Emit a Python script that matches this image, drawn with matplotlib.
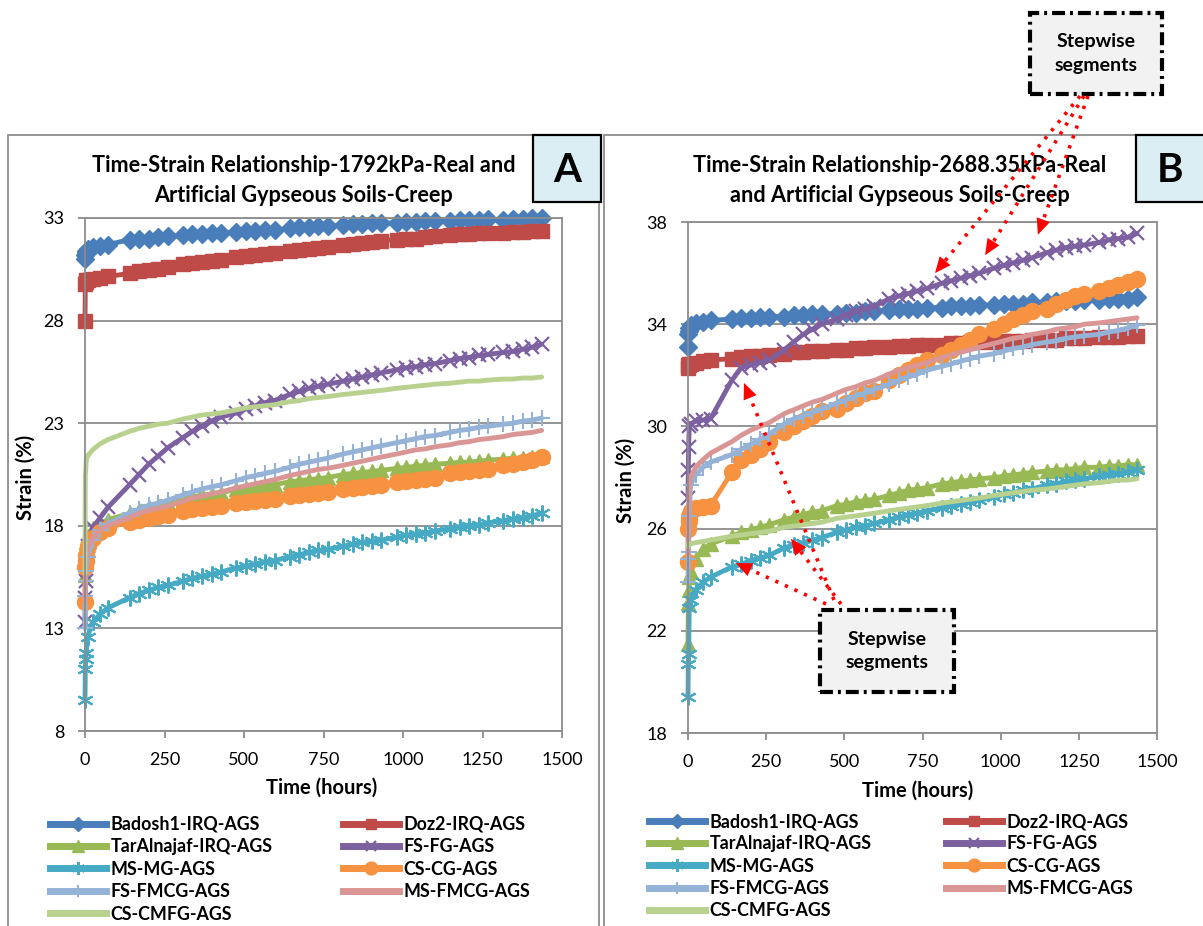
import numpy as np
import matplotlib
matplotlib.use("Agg")
import matplotlib.pyplot as plt
from matplotlib.patches import Rectangle, Polygon
from matplotlib.lines import Line2D

plt.rcParams['font.family'] = ['Lato', 'DejaVu Sans']

# ---------------------------------------------------------------- data
# reading times (hours): dense start, then weekday readings each week
hours = [0, 1, 2, 4, 8, 24, 48, 72,
         140, 170, 200, 230, 260,
         308, 338, 368, 398, 428,
         476, 506, 536, 566, 596,
         644, 674, 704, 734, 764,
         812, 842, 872, 902, 932,
         980, 1010, 1040, 1070, 1100,
         1148, 1178, 1208, 1238, 1268,
         1316, 1346, 1376, 1406, 1436]

series_names = ['Badosh1-IRQ-AGS', 'Doz2-IRQ-AGS', 'TarAlnajaf-IRQ-AGS',
                'FS-FG-AGS', 'MS-MG-AGS', 'CS-CG-AGS',
                'FS-FMCG-AGS', 'MS-FMCG-AGS', 'CS-CMFG-AGS']

# Strain (%) under 1792 kPa
strain_A = {
    'Badosh1-IRQ-AGS': [31.0, 31.2, 31.3, 31.4, 31.5, 31.6, 31.65, 31.7,
                        31.95, 32.0, 32.0, 32.05, 32.1,
                        32.15, 32.2, 32.2, 32.25, 32.25,
                        32.3, 32.35, 32.35, 32.4, 32.4,
                        32.5, 32.55, 32.55, 32.6, 32.6,
                        32.65, 32.7, 32.7, 32.75, 32.75,
                        32.75, 32.8, 32.8, 32.85, 32.85,
                        32.85, 32.9, 32.9, 32.9, 32.95,
                        32.9, 32.95, 32.95, 33.0, 33.0],
    'Doz2-IRQ-AGS': [28.0, 29.8, 29.9, 30.0, 30.0, 30.05, 30.1, 30.15,
                     30.3, 30.4, 30.45, 30.5, 30.6,
                     30.75, 30.8, 30.85, 30.9, 30.95,
                     31.1, 31.15, 31.2, 31.25, 31.3,
                     31.4, 31.45, 31.5, 31.55, 31.6,
                     31.7, 31.75, 31.8, 31.85, 31.9,
                     31.95, 32.0, 32.0, 32.05, 32.1,
                     32.15, 32.2, 32.2, 32.25, 32.25,
                     32.25, 32.3, 32.3, 32.35, 32.35],
    'TarAlnajaf-IRQ-AGS': [15.6, 16.5, 16.9, 17.2, 17.5, 17.9, 18.1, 18.3,
                           18.6, 18.75, 18.9, 19.0, 19.1,
                           19.3, 19.4, 19.5, 19.55, 19.6,
                           19.8, 19.85, 19.9, 19.95, 20.0,
                           20.15, 20.2, 20.25, 20.3, 20.35,
                           20.5, 20.55, 20.6, 20.65, 20.7,
                           20.8, 20.85, 20.9, 20.95, 21.0,
                           21.05, 21.1, 21.1, 21.15, 21.2,
                           21.25, 21.3, 21.3, 21.35, 21.4],
    'FS-FG-AGS': [13.3, 14.5, 15.3, 16.2, 17.0, 17.9, 18.4, 18.9,
                  20.0, 20.5, 21.0, 21.4, 21.8,
                  22.3, 22.6, 22.85, 23.1, 23.3,
                  23.5, 23.7, 23.85, 24.0, 24.1,
                  24.4, 24.55, 24.7, 24.8, 24.9,
                  25.05, 25.15, 25.25, 25.35, 25.45,
                  25.6, 25.7, 25.75, 25.85, 25.9,
                  26.05, 26.15, 26.2, 26.3, 26.35,
                  26.45, 26.5, 26.6, 26.7, 26.85],
    'MS-MG-AGS': [9.5, 11.0, 11.5, 11.8, 12.6, 13.3, 13.7, 14.0,
                  14.5, 14.7, 14.85, 15.0, 15.1,
                  15.3, 15.45, 15.55, 15.65, 15.75,
                  15.95, 16.05, 16.15, 16.25, 16.3,
                  16.5, 16.6, 16.7, 16.8, 16.85,
                  17.0, 17.1, 17.2, 17.25, 17.3,
                  17.45, 17.55, 17.6, 17.65, 17.75,
                  17.85, 17.95, 18.0, 18.05, 18.15,
                  18.25, 18.35, 18.4, 18.5, 18.6],
    'CS-CG-AGS': [14.3, 16.0, 16.3, 16.6, 17.0, 17.4, 17.7, 17.9,
                  18.2, 18.3, 18.4, 18.5, 18.55,
                  18.7, 18.8, 18.85, 18.9, 18.95,
                  19.1, 19.15, 19.2, 19.25, 19.3,
                  19.45, 19.5, 19.55, 19.6, 19.65,
                  19.8, 19.85, 19.9, 19.95, 20.0,
                  20.15, 20.2, 20.25, 20.3, 20.35,
                  20.55, 20.6, 20.65, 20.7, 20.75,
                  20.95, 21.0, 21.1, 21.2, 21.35],
    'FS-FMCG-AGS': [13.0, 14.6, 15.3, 15.8, 16.5, 17.3, 17.8, 18.1,
                    18.6, 18.8, 19.0, 19.1, 19.25,
                    19.5, 19.65, 19.8, 19.9, 20.0,
                    20.2, 20.35, 20.45, 20.55, 20.65,
                    20.85, 21.0, 21.1, 21.2, 21.3,
                    21.5, 21.6, 21.7, 21.8, 21.9,
                    22.05, 22.15, 22.25, 22.35, 22.4,
                    22.55, 22.65, 22.7, 22.8, 22.85,
                    22.95, 23.0, 23.1, 23.15, 23.25],
    'MS-FMCG-AGS': [14.3, 15.5, 16.0, 16.4, 16.9, 17.4, 17.8, 18.0,
                    18.4, 18.6, 18.75, 18.85, 18.95,
                    19.2, 19.35, 19.45, 19.55, 19.65,
                    19.85, 19.95, 20.05, 20.15, 20.25,
                    20.45, 20.55, 20.65, 20.75, 20.8,
                    20.95, 21.05, 21.15, 21.25, 21.35,
                    21.5, 21.6, 21.7, 21.75, 21.85,
                    21.95, 22.05, 22.1, 22.2, 22.25,
                    22.35, 22.45, 22.5, 22.55, 22.65],
    'CS-CMFG-AGS': [15.7, 20.5, 20.6, 21.2, 21.4, 21.7, 22.0, 22.2,
                    22.6, 22.75, 22.85, 22.95, 23.0,
                    23.2, 23.3, 23.4, 23.45, 23.5,
                    23.65, 23.75, 23.8, 23.85, 23.9,
                    24.05, 24.1, 24.2, 24.25, 24.3,
                    24.4, 24.45, 24.5, 24.55, 24.6,
                    24.7, 24.75, 24.8, 24.85, 24.9,
                    24.95, 25.0, 25.05, 25.05, 25.1,
                    25.15, 25.15, 25.2, 25.2, 25.25],
}

# Strain (%) under 2688.35 kPa
strain_B = {
    'Badosh1-IRQ-AGS': [33.1, 33.6, 33.75, 33.85, 33.95, 34.05, 34.1, 34.15,
                        34.2, 34.25, 34.25, 34.3, 34.3,
                        34.3, 34.35, 34.35, 34.4, 34.4,
                        34.4, 34.45, 34.45, 34.5, 34.5,
                        34.55, 34.6, 34.6, 34.6, 34.65,
                        34.65, 34.7, 34.7, 34.7, 34.75,
                        34.75, 34.8, 34.8, 34.8, 34.85,
                        34.85, 34.9, 34.9, 34.9, 34.95,
                        34.95, 35.0, 35.0, 35.0, 35.05],
    'Doz2-IRQ-AGS': [32.3, 32.4, 32.4, 32.45, 32.45, 32.5, 32.55, 32.6,
                     32.65, 32.7, 32.75, 32.75, 32.8,
                     32.85, 32.9, 32.9, 32.95, 32.95,
                     33.0, 33.0, 33.05, 33.05, 33.1,
                     33.1, 33.15, 33.15, 33.2, 33.2,
                     33.2, 33.25, 33.25, 33.3, 33.3,
                     33.3, 33.35, 33.35, 33.35, 33.4,
                     33.4, 33.4, 33.45, 33.45, 33.45,
                     33.5, 33.5, 33.5, 33.55, 33.55],
    'TarAlnajaf-IRQ-AGS': [21.5, 23.1, 23.6, 24.1, 24.3, 24.8, 25.2, 25.4,
                           25.7, 25.85, 25.95, 26.05, 26.15,
                           26.35, 26.45, 26.55, 26.65, 26.7,
                           26.9, 26.95, 27.05, 27.1, 27.15,
                           27.3, 27.4, 27.5, 27.55, 27.6,
                           27.75, 27.8, 27.85, 27.9, 27.95,
                           28.0, 28.05, 28.1, 28.15, 28.2,
                           28.25, 28.3, 28.3, 28.35, 28.4,
                           28.4, 28.45, 28.45, 28.5, 28.5],
    'FS-FG-AGS': [27.2, 28.3, 29.2, 30.0, 30.1, 30.2, 30.25, 30.3,
                  31.8, 32.3, 32.4, 32.5, 32.6,
                  33.0, 33.3, 33.6, 33.8, 34.0,
                  34.2, 34.35, 34.5, 34.6, 34.7,
                  35.0, 35.1, 35.2, 35.3, 35.4,
                  35.6, 35.7, 35.8, 35.9, 36.0,
                  36.2, 36.3, 36.4, 36.5, 36.6,
                  36.8, 36.9, 37.0, 37.05, 37.1,
                  37.2, 37.3, 37.35, 37.4, 37.55],
    'MS-MG-AGS': [19.4, 20.7, 21.1, 22.9, 23.2, 23.6, 23.9, 24.1,
                  24.5, 24.6, 24.75, 24.85, 24.95,
                  25.25, 25.35, 25.45, 25.55, 25.65,
                  25.85, 25.95, 26.05, 26.1, 26.2,
                  26.35, 26.45, 26.55, 26.6, 26.7,
                  26.8, 26.9, 26.95, 27.05, 27.1,
                  27.25, 27.35, 27.4, 27.5, 27.55,
                  27.7, 27.75, 27.85, 27.9, 27.95,
                  28.05, 28.1, 28.15, 28.2, 28.3],
    'CS-CG-AGS': [24.7, 26.0, 26.3, 26.5, 26.7, 26.8, 26.85, 26.9,
                  28.2, 28.7, 28.9, 29.1, 29.4,
                  29.8, 30.0, 30.2, 30.4, 30.6,
                  30.7, 30.9, 31.1, 31.3, 31.4,
                  31.8, 32.0, 32.2, 32.4, 32.6,
                  32.8, 33.0, 33.2, 33.4, 33.6,
                  33.8, 34.0, 34.2, 34.35, 34.5,
                  34.6, 34.8, 34.95, 35.1, 35.2,
                  35.3, 35.4, 35.55, 35.65, 35.75],
    'FS-FMCG-AGS': [23.9, 24.8, 25.1, 26.5, 27.7, 28.1, 28.4, 28.6,
                    28.9, 29.1, 29.3, 29.5, 29.7,
                    30.1, 30.3, 30.4, 30.55, 30.7,
                    30.9, 31.05, 31.2, 31.3, 31.45,
                    31.65, 31.8, 31.95, 32.05, 32.2,
                    32.35, 32.45, 32.55, 32.65, 32.75,
                    32.85, 32.95, 33.05, 33.1, 33.2,
                    33.3, 33.35, 33.45, 33.5, 33.55,
                    33.6, 33.7, 33.75, 33.85, 33.95],
    'MS-FMCG-AGS': [25.0, 26.4, 27.0, 27.6, 28.0, 28.4, 28.7, 28.95,
                    29.4, 29.65, 29.85, 30.0, 30.15,
                    30.5, 30.65, 30.8, 30.95, 31.05,
                    31.3, 31.45, 31.55, 31.7, 31.8,
                    32.05, 32.2, 32.3, 32.4, 32.5,
                    32.7, 32.8, 32.9, 33.0, 33.1,
                    33.25, 33.35, 33.45, 33.5, 33.6,
                    33.7, 33.8, 33.85, 33.9, 34.0,
                    34.05, 34.1, 34.15, 34.2, 34.25],
    'CS-CMFG-AGS': [25.3, 25.35, 25.4, 25.4, 25.4, 25.45, 25.5, 25.55,
                    25.7, 25.75, 25.8, 25.85, 25.9,
                    26.05, 26.1, 26.15, 26.2, 26.25,
                    26.4, 26.45, 26.5, 26.55, 26.6,
                    26.7, 26.75, 26.8, 26.85, 26.9,
                    27.0, 27.05, 27.1, 27.15, 27.2,
                    27.3, 27.35, 27.4, 27.45, 27.5,
                    27.55, 27.6, 27.65, 27.7, 27.75,
                    27.8, 27.85, 27.9, 27.9, 27.95],
}

x_ticks = [0, 250, 500, 750, 1000, 1250, 1500]
y_ticks_A = [8, 13, 18, 23, 28, 33]
y_ticks_B = [18, 22, 26, 30, 34, 38]

title_A = ['Time-Strain Relationship-1792kPa-Real and',
           'Artificial Gypseous Soils-Creep']
title_B = ['Time-Strain Relationship-2688.35kPa-Real',
           'and Artificial Gypseous Soils-Creep']

# ---------------------------------------------------------------- styles
styles = {
    'Badosh1-IRQ-AGS':    dict(color='#4A7EBB', marker='D', ms=9),
    'Doz2-IRQ-AGS':       dict(color='#BE4B48', marker='s', ms=9.5),
    'TarAlnajaf-IRQ-AGS': dict(color='#98B954', marker='^', ms=10.5),
    'FS-FG-AGS':          dict(color='#7D60A0', marker='x', ms=9.5, mew=1.6),
    'MS-MG-AGS':          dict(color='#46AAC5', marker=(6, 2, 0), ms=11.5, mew=1.5),
    'CS-CG-AGS':          dict(color='#F69240', marker='o', ms=11.5),
    'FS-FMCG-AGS':        dict(color='#95B3D7', marker='+', ms=11.5, mew=1.5),
    'MS-FMCG-AGS':        dict(color='#D99694', marker=None),
    'CS-CMFG-AGS':        dict(color='#B9D18F', marker=None),
}

W, H = 1203, 926
fig = plt.figure(figsize=(W / 100, H / 100), dpi=100)


def fx(px):
    return px / W


def fy(py):
    return 1 - py / H


GRID = '#8C8C8C'


def draw_panel(rect, data, yticks, ylim):
    ax = fig.add_axes(rect)
    handles = {}
    for name in series_names:
        st = dict(styles[name])
        col = st.pop('color')
        mk = st.pop('marker')
        ms = st.pop('ms', 0)
        mew = st.pop('mew', 1.0)
        ln, = ax.plot(hours, data[name], color=col, lw=3.5,
                      marker=mk, ms=ms, mfc=col, mec=col, mew=mew,
                      label=name, clip_on=False, solid_capstyle='round')
        handles[name] = ln
    ax.set_xlim(0, 1500)
    ax.set_ylim(*ylim)
    ax.set_xticks(x_ticks)
    ax.set_yticks(yticks)
    ax.yaxis.grid(True, color=GRID, lw=1.3)
    ax.set_axisbelow(True)
    for sp in ax.spines.values():
        sp.set_color(GRID)
        sp.set_linewidth(1.3)
    ax.tick_params(axis='both', colors=GRID, length=5, width=1.3,
                   labelcolor='black', labelsize=13, pad=10)
    return ax, handles


axA, hA = draw_panel([fx(85), fy(731), fx(562) - fx(85), (731 - 218) / H],
                     strain_A, y_ticks_A, (8, 33))
axB, hB = draw_panel([fx(688), fy(733), fx(1157) - fx(688), (733 - 222) / H],
                     strain_B, y_ticks_B, (18, 38))

# panel frames
fig.add_artist(Rectangle((fx(8), fy(940)), fx(599) - fx(8), (940 - 135) / H,
                         transform=fig.transFigure, fill=False,
                         edgecolor=GRID, lw=1.3, zorder=0))
fig.add_artist(Rectangle((fx(604), fy(940)), fx(1215) - fx(604), (940 - 135) / H,
                         transform=fig.transFigure, fill=False,
                         edgecolor=GRID, lw=1.3, zorder=0))

# panel letters
for x0, x1, cx, letter in [(533, 601, 567, 'A'), (1136, 1215, 1170, 'B')]:
    fig.add_artist(Rectangle((fx(x0), fy(202)), fx(x1) - fx(x0), (202 - 135) / H,
                             transform=fig.transFigure, facecolor='#DBEEF4',
                             edgecolor='black', lw=1.6, zorder=3))
    fig.text(fx(cx), fy(170), letter, ha='center', va='center', fontsize=29,
             fontweight='bold', zorder=4)

# titles
for cx, lines in [(304, title_A), (900, title_B)]:
    fig.text(fx(cx), fy(165), lines[0], ha='center', va='center',
             fontsize=15.6, fontweight='bold')
    fig.text(fx(cx), fy(195), lines[1], ha='center', va='center',
             fontsize=15.6, fontweight='bold')

# axis labels
fig.text(fx(322), fy(788), 'Time (hours)', ha='center', va='center',
         fontsize=14.5, fontweight='bold')
fig.text(fx(918), fy(791), 'Time (hours)', ha='center', va='center',
         fontsize=14.5, fontweight='bold')
fig.text(fx(26), fy(477), 'Strain (%)', ha='center', va='center',
         rotation=90, fontsize=14.5, fontweight='bold')
fig.text(fx(626), fy(480), 'Strain (%)', ha='center', va='center',
         rotation=90, fontsize=14.5, fontweight='bold')

# legends, two columns each
col1 = ['Badosh1-IRQ-AGS', 'TarAlnajaf-IRQ-AGS', 'MS-MG-AGS',
        'FS-FMCG-AGS', 'CS-CMFG-AGS']
col2 = ['Doz2-IRQ-AGS', 'FS-FG-AGS', 'CS-CG-AGS', 'MS-FMCG-AGS']


def legend_column(handles, names, x, ytop):
    hs = []
    for n in names:
        h = handles[n]
        hs.append(Line2D([0], [0], color=h.get_color(), lw=5,
                         marker=h.get_marker(), ms=h.get_markersize() * 0.8,
                         mfc=h.get_color(), mec=h.get_color(),
                         mew=h.get_markeredgewidth()))
    fig.legend(hs, names, loc='upper left',
               bbox_to_anchor=(fx(x), fy(ytop)), bbox_transform=fig.transFigure,
               frameon=False, handlelength=3.15, handletextpad=0.22,
               labelspacing=0.3, borderpad=0, borderaxespad=0,
               prop=dict(size=12.9, weight='bold'))


legend_column(hA, col1, 50, 816)
legend_column(hA, col2, 343, 816)
legend_column(hB, col1, 649, 813)
legend_column(hB, col2, 946, 813)

# "Stepwise segments" call-outs
for x0, x1, y0, y1 in [(1030, 1162, 13, 94), (820, 954, 610, 692)]:
    fig.add_artist(Rectangle((fx(x0), fy(y1)), fx(x1) - fx(x0), (y1 - y0) / H,
                             transform=fig.transFigure, facecolor='#F2F2F2',
                             edgecolor='black', lw=3,
                             linestyle=(0, (3.1, 1.2, 0.7, 1.2)), zorder=5))
    fig.text(fx((x0 + x1) / 2), fy((y0 + y1) / 2), 'Stepwise\nsegments',
             ha='center', va='center', fontsize=14, fontweight='bold',
             linespacing=1.45, zorder=6)

# dotted red pointers: tail (figure pixels from top-left) -> head (data of panel B)
arrows = [((1080, 96), (790, 36.0)),
          ((1084, 96), (950, 36.7)),
          ((1088, 96), (1119, 37.5)),
          ((834, 600), (179, 31.7)),
          ((841, 604), (329, 25.6)),
          ((826, 604), (153, 24.65))]
HEAD_L, HEAD_W = 16, 14
for (tx, ty), (hx, hy) in arrows:
    tail = np.array([tx, H - ty], dtype=float)
    tip = np.array(axB.transData.transform((hx, hy)))
    d = tip - tail
    d /= np.hypot(*d)
    n = np.array([-d[1], d[0]])
    base = tip - d * HEAD_L
    fig.add_artist(Line2D([tail[0], base[0]], [tail[1], base[1]],
                          transform=None, color='#FF0000', lw=2.6,
                          linestyle=(0, (0.9, 2.0)), zorder=10))
    fig.add_artist(Polygon([tip, base + n * HEAD_W / 2, base - n * HEAD_W / 2],
                           closed=True, transform=None, facecolor='#FF0000',
                           edgecolor='none', zorder=10))

fig.savefig('out.png', dpi=100, facecolor='white')
